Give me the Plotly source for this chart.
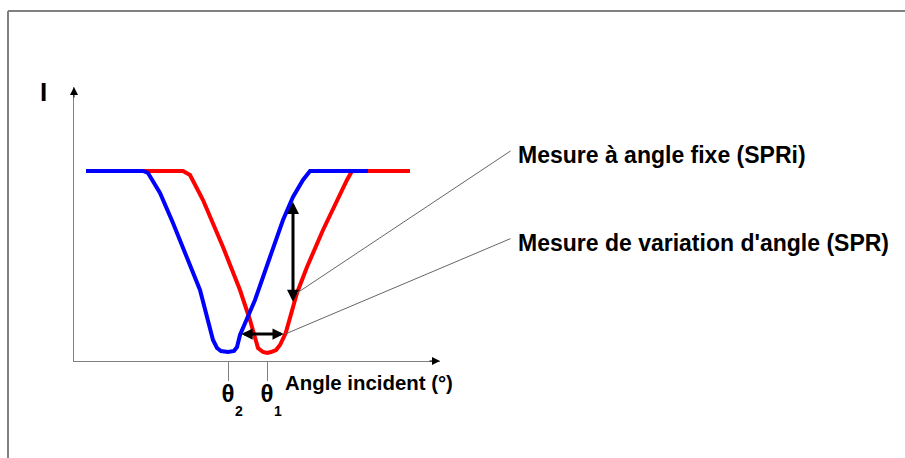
import numpy as np
import plotly.graph_objects as go

# ---------------- data (angle in arbitrary units, intensity in arbitrary units) -------------
blue_angle = [1.2, 6.9, 7.4, 8.6, 9.9, 11.3, 12.6, 13.9, 14.3, 14.7, 15.4, 16.0, 16.3,
              16.6, 17.1, 18.1, 19.6, 20.9, 21.9, 22.9, 23.6, 29.4]
blue_I = [19.0, 19.0, 18.8, 16.8, 13.8, 10.4, 7.1, 2.1, 1.3, 1.0, 0.9, 1.0, 1.4,
          2.6, 3.8, 6.1, 10.4, 14.1, 16.4, 18.1, 19.0, 19.0]

red_angle = [5.4, 10.9, 11.6, 12.9, 14.9, 16.6, 17.6, 18.1, 18.4, 18.9, 19.3, 19.7,
             20.2, 20.6, 21.17, 22.3, 23.3, 24.9, 26.3, 27.3, 27.8, 33.6]
red_I = [19.0, 19.0, 18.6, 16.1, 11.4, 7.1, 4.1, 2.1, 1.3, 0.9, 0.8, 0.9,
         1.1, 1.6, 2.8, 6.8, 9.4, 13.1, 16.1, 18.1, 19.0, 19.0]

fixed_angle = 21.9          # SPRi : intensity change measured at a fixed angle
level_I = 2.7               # SPR : angle shift measured near the minimum
leader_angle = 22.3         # where the SPRi leader line touches the red curve

tick_text = ["θ", "θ"]
tick_sub = ["2", "1"]
label_spri = "Mesure à angle fixe (SPRi)"
label_spr = "Mesure de variation d'angle (SPR)"
x_title = "Angle incident (°)"
y_title = "I"

# ---------------- layout geometry -------------
W, H = 905, 458
ML, MR, MT, MB = 74, 465, 87, 97
X_RANGE = [0, 36.6]
Y_RANGE = [0, 27.4]
FONT = "Liberation Sans, Arial, sans-serif"
GRAY = "#808080"


def px2paper(px, py):
    return (px - ML) / (W - ML - MR), ((H - MB) - py) / (H - MT - MB)


def rising(angle, inten):
    a = np.asarray(angle)
    i = np.asarray(inten)
    k = int(np.argmin(i))
    return a[k:], i[k:]


blue_min_angle = blue_angle[int(np.argmin(blue_I))]
red_min_angle = red_angle[int(np.argmin(red_I))]

I_blue_fixed = float(np.interp(fixed_angle, blue_angle, blue_I))
I_red_fixed = float(np.interp(fixed_angle, red_angle, red_I))
ba, bi = rising(blue_angle, blue_I)
ra, ri = rising(red_angle, red_I)
a_blue_level = float(np.interp(level_I, bi, ba))
a_red_level = float(np.interp(level_I, ri, ra))
I_red_leader = float(np.interp(leader_angle, red_angle, red_I))

fig = go.Figure()
fig.add_trace(go.Scatter(x=red_angle, y=red_I, mode="lines",
                         line=dict(color="#ff0000", width=4), hoverinfo="skip"))
fig.add_trace(go.Scatter(x=blue_angle, y=blue_I, mode="lines",
                         line=dict(color="#0000ff", width=4), hoverinfo="skip"))

ann = []
# axis arrowheads
ann.append(dict(xref="paper", yref="paper", x=0, y=1, ax=0, ay=12, text="",
                showarrow=True, arrowhead=2, arrowwidth=1, arrowsize=1.6,
                arrowcolor="black", standoff=0))
ann.append(dict(xref="paper", yref="paper", x=1, y=0, ax=-12, ay=0, text="",
                showarrow=True, arrowhead=2, arrowwidth=1, arrowsize=1.6,
                arrowcolor="black", standoff=0))
# vertical double arrow (SPRi)
ann.append(dict(xref="x", yref="y", axref="x", ayref="y",
                x=fixed_angle, y=I_blue_fixed, ax=fixed_angle, ay=I_red_fixed,
                text="", showarrow=True, arrowside="end+start",
                arrowhead=2, startarrowhead=2, arrowwidth=3,
                arrowsize=0.8, startarrowsize=0.8, arrowcolor="black",
                standoff=5, startstandoff=4))
# horizontal double arrow (SPR)
ann.append(dict(xref="x", yref="y", axref="x", ayref="y",
                x=a_blue_level, y=level_I, ax=a_red_level, ay=level_I,
                text="", showarrow=True, arrowside="end+start",
                arrowhead=2, startarrowhead=2, arrowwidth=3,
                arrowsize=0.75, startarrowsize=0.75, arrowcolor="black",
                standoff=1, startstandoff=0))
# leader lines
lx1, ly1 = 43.8, 21.1
lx2, ly2 = 43.8, 12.3
ann.append(dict(xref="x", yref="y", axref="x", ayref="y",
                x=leader_angle, y=I_red_leader, ax=lx1, ay=ly1, text="",
                showarrow=True, arrowhead=0, arrowwidth=1, arrowcolor="#666666"))
ann.append(dict(xref="x", yref="y", axref="x", ayref="y",
                x=a_red_level, y=level_I, ax=lx2, ay=ly2, text="",
                showarrow=True, arrowhead=0, arrowwidth=1, arrowcolor="#666666"))


def text_ann(txt, px, py, size, xanchor="left", xshift=0):
    x, y = px2paper(px, py)
    return dict(xref="paper", yref="paper", x=x, y=y, text=txt, showarrow=False,
                xanchor=xanchor, yanchor="middle", xshift=xshift,
                font=dict(family=FONT, size=size, color="black", weight="bold"))


# labels
ann.append(text_ann(label_spri, 516, 155, 23))
ann.append(text_ann(label_spr, 516, 243, 23))
ann.append(text_ann(x_title, 283, 383, 20.4))
ann.append(text_ann(y_title, 43, 92, 26, xanchor="center"))
for tv, s in zip([blue_min_angle, red_min_angle], tick_sub):
    ann.append(dict(xref="x", yref="y", x=tv, y=0, text=s, showarrow=False,
                    xanchor="center", yanchor="middle", xshift=11, yshift=-50,
                    font=dict(family=FONT, size=14, color="black", weight="bold")))

# frame lines (top and left)
fx0, fy0 = px2paper(8, 11)
fx1, fy1 = px2paper(W + 5, H + 5)
shapes = [
    dict(type="line", xref="paper", yref="paper", x0=fx0, y0=fy0, x1=fx1, y1=fy0,
         line=dict(color=GRAY, width=2)),
    dict(type="line", xref="paper", yref="paper", x0=fx0, y0=fy0, x1=fx0, y1=fy1,
         line=dict(color=GRAY, width=2)),
]

fig.update_layout(
    width=W, height=H, autosize=False,
    margin=dict(l=ML, r=MR, t=MT, b=MB, pad=0),
    paper_bgcolor="white", plot_bgcolor="white",
    showlegend=False,
    annotations=ann, shapes=shapes,
    xaxis=dict(range=X_RANGE, showgrid=False, zeroline=False, showline=True,
               linecolor=GRAY, linewidth=1, ticks="outside", ticklen=19,
               tickcolor=GRAY, tickwidth=1, ticklabelstandoff=-8,
               tickvals=[blue_min_angle, red_min_angle], ticktext=tick_text,
               tickfont=dict(family=FONT, size=24, color="black", weight="bold"),
               fixedrange=True),
    yaxis=dict(range=Y_RANGE, showgrid=False, zeroline=False, showline=True,
               linecolor=GRAY, linewidth=1, showticklabels=False, ticks="",
               fixedrange=True),
)

fig.write_html("out.html", config={"displayModeBar": False},
               post_script="document.body.style.margin='0px';")
